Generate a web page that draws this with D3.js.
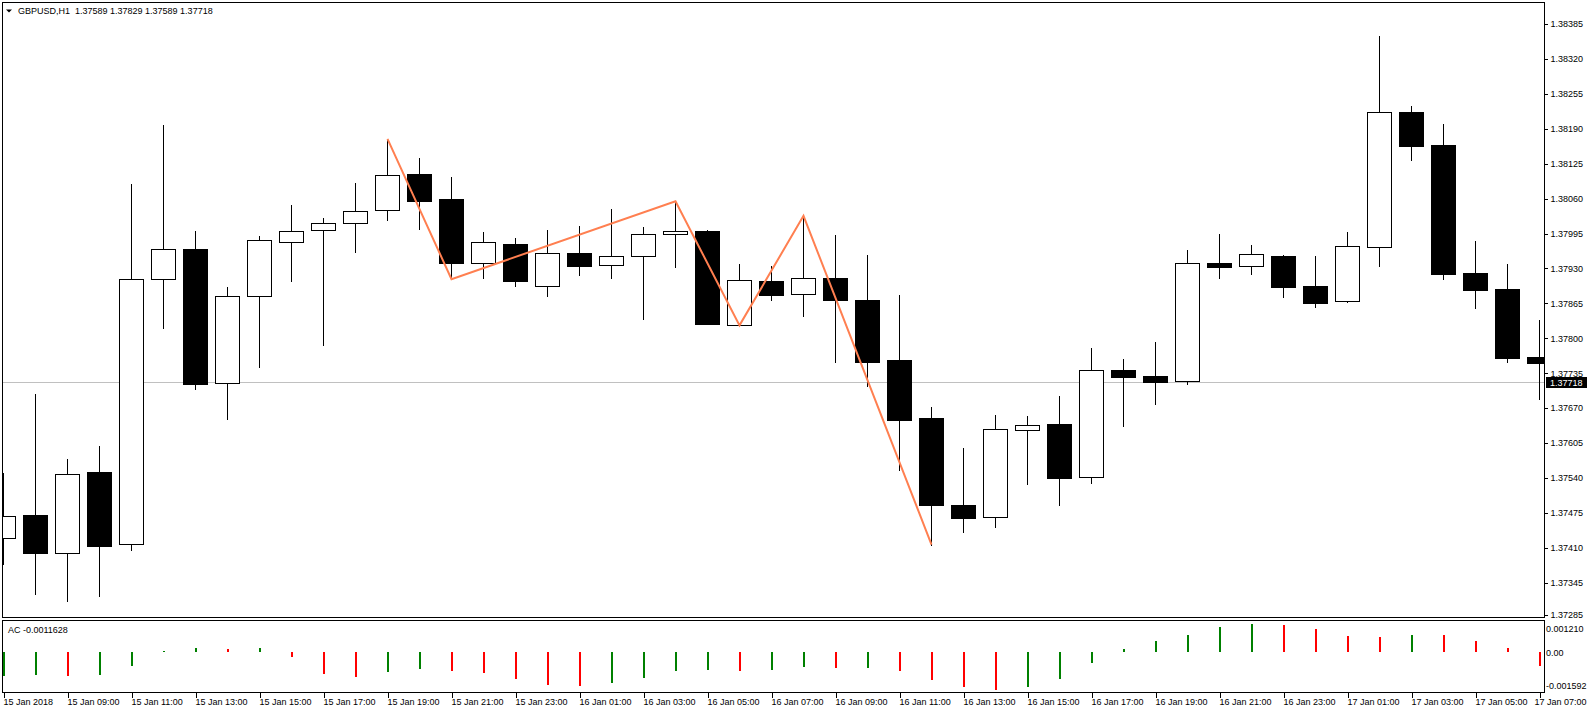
<!DOCTYPE html>
<html><head><meta charset="utf-8">
<script src="https://cdn.jsdelivr.net/npm/d3@7"></script>
<style>
body{margin:0;background:#fff}
svg{display:block}
text{font-family:"Liberation Sans",Arial,sans-serif;font-size:9px;fill:#000}
</style>
</head><body>
<svg id="c" width="1587" height="713"></svg>
<script>
// ---- data ----
const symbolTitle = "GBPUSD,H1  1.37589 1.37829 1.37589 1.37718";
const acTitle = "AC -0.0011628";
const open  = [1.37428,1.37471,1.37400,1.37551,1.37417,1.37910,1.37966,1.37716,1.37878,1.37979,1.38001,1.38014,1.38038,1.38106,1.38059,1.37941,1.37975,1.37897,1.37959,1.37936,1.37954,1.37994,1.38000,1.37824,1.37907,1.37882,1.37912,1.37871,1.37760,1.37652,1.37490,1.37467,1.37629,1.37640,1.37542,1.37741,1.37730,1.37720,1.37940,1.37934,1.37953,1.37897,1.37869,1.37969,1.38221,1.38160,1.37921,1.37892,1.37765];
const high  = [1.37550,1.37696,1.37575,1.37599,1.38087,1.38197,1.38000,1.37895,1.37990,1.38048,1.38024,1.38089,1.38171,1.38136,1.38100,1.37998,1.37987,1.38002,1.38009,1.38041,1.38007,1.38055,1.38001,1.37938,1.37935,1.38028,1.37992,1.37955,1.37881,1.37672,1.37596,1.37657,1.37655,1.37693,1.37782,1.37761,1.37793,1.37964,1.37994,1.37974,1.37955,1.37953,1.37998,1.38363,1.38232,1.38199,1.37981,1.37938,1.37834];
const low   = [1.37379,1.37323,1.37311,1.37321,1.37405,1.37820,1.37706,1.37650,1.37747,1.37907,1.37788,1.37961,1.38021,1.38004,1.37910,1.37913,1.37898,1.37879,1.37917,1.37913,1.37836,1.37933,1.37826,1.37824,1.37871,1.37842,1.37755,1.37712,1.37555,1.37416,1.37440,1.37449,1.37529,1.37490,1.37531,1.37637,1.37678,1.37714,1.37913,1.37920,1.37877,1.37859,1.37868,1.37935,1.38132,1.37911,1.37857,1.37755,1.37686];
const close = [1.37470,1.37401,1.37547,1.37413,1.37910,1.37966,1.37714,1.37878,1.37982,1.37999,1.38014,1.38036,1.38103,1.38056,1.37941,1.37979,1.37907,1.37958,1.37935,1.37953,1.37994,1.37999,1.37827,1.37908,1.37881,1.37913,1.37872,1.37755,1.37648,1.37490,1.37466,1.37631,1.37638,1.37540,1.37740,1.37728,1.37719,1.37941,1.37933,1.37956,1.37896,1.37866,1.37971,1.38221,1.38158,1.37920,1.37890,1.37764,1.37753];
const acValues = [-0.000960,-0.000934,-0.000974,-0.000934,-0.000574,0.000040,0.000147,0.000107,0.000150,-0.000213,-0.000894,-0.001014,-0.000814,-0.000694,-0.000774,-0.000854,-0.001094,-0.001334,-0.001374,-0.001241,-0.001054,-0.000774,-0.000734,-0.000747,-0.000735,-0.000614,-0.000654,-0.000645,-0.000774,-0.001134,-0.001414,-0.001494,-0.001414,-0.001072,-0.000454,0.000110,0.000440,0.000646,0.000976,0.001100,0.001058,0.000893,0.000605,0.000595,0.000646,0.000640,0.000440,0.000140,-0.000560];
const zigzagIndex = [12,14,21,23,25,29];
const zigzagPrice = [1.38171,1.37910,1.38055,1.37824,1.38028,1.37416];
const priceTicks = [1.38385,1.38320,1.38255,1.38190,1.38125,1.38060,1.37995,1.37930,1.37865,1.37800,1.37735,1.37670,1.37605,1.37540,1.37475,1.37410,1.37345,1.37285];
const currentPrice = 1.37718;
const acMax = 0.001210, acMin = -0.001592;
const acTickLabels = ["0.001210","0.00","-0.001592"];
const xTickLabels = ["15 Jan 2018","15 Jan 09:00","15 Jan 11:00","15 Jan 13:00","15 Jan 15:00","15 Jan 17:00","15 Jan 19:00","15 Jan 21:00","15 Jan 23:00","16 Jan 01:00","16 Jan 03:00","16 Jan 05:00","16 Jan 07:00","16 Jan 09:00","16 Jan 11:00","16 Jan 13:00","16 Jan 15:00","16 Jan 17:00","16 Jan 19:00","16 Jan 21:00","16 Jan 23:00","17 Jan 01:00","17 Jan 03:00","17 Jan 05:00","17 Jan 07:00"];

// ---- layout ----
const svg = d3.select("#c");
const W = 1587;
const L = 2.5, R = 1544.5, mainTop = 2.5, mainBot = 617.5, acTop = 620.5, acBot = 692.5;
const n = open.length;
const x = d3.scaleLinear().domain([0, n - 1]).range([3.5, 3.5 + 32 * (n - 1)]);
const y = d3.scaleLinear().domain([1.37285, 1.38385]).range([614.9, 24]);
const ya = d3.scaleLinear().domain([acMin, acMax]).range([692, 621]);

svg.append("rect").attr("width", W).attr("height", 713).attr("fill", "#fff");
const defs = svg.append("defs");
defs.append("clipPath").attr("id", "clipMain").append("rect")
  .attr("x", 3).attr("y", 3).attr("width", R - 3).attr("height", mainBot - 3);
defs.append("clipPath").attr("id", "clipAc").append("rect")
  .attr("x", 3).attr("y", acTop + 0.5).attr("width", R - 3).attr("height", acBot - acTop - 1);

// current price line
const main = svg.append("g").attr("clip-path", "url(#clipMain)").attr("shape-rendering", "crispEdges");
main.append("line").attr("x1", L).attr("x2", R)
  .attr("y1", Math.round(y(currentPrice)) + 0.5).attr("y2", Math.round(y(currentPrice)) + 0.5)
  .attr("stroke", "#c0c0c0");

// candles
const idx = d3.range(n);
const cg = main.selectAll("g.c").data(idx).join("g");
cg.append("line")
  .attr("x1", i => x(i)).attr("x2", i => x(i))
  .attr("y1", i => Math.round(y(high[i]))).attr("y2", i => Math.round(y(low[i])) + 1)
  .attr("stroke", "#000");
cg.each(function(i) {
  const g = d3.select(this);
  const c = Math.floor(x(i));
  const yt = Math.round(y(Math.max(open[i], close[i])));
  const yb = Math.round(y(Math.min(open[i], close[i])));
  if (close[i] >= open[i]) {
    g.append("rect").attr("x", c - 11.5).attr("y", yt + 0.5)
      .attr("width", 24).attr("height", Math.max(1, yb - yt))
      .attr("fill", "#fff").attr("stroke", "#000");
  } else {
    g.append("rect").attr("x", c - 12).attr("y", yt)
      .attr("width", 25).attr("height", Math.max(2, yb - yt + 1))
      .attr("fill", "#000");
  }
});

// zigzag
const zz = zigzagIndex.map((d, k) => [x(d), y(zigzagPrice[k])]);
svg.append("g").attr("clip-path", "url(#clipMain)").append("path")
  .attr("d", d3.line()(zz)).attr("fill", "none")
  .attr("stroke", "#ff7f50").attr("stroke-width", 2);

// AC histogram
const ac = svg.append("g").attr("clip-path", "url(#clipAc)").attr("shape-rendering", "crispEdges");
ac.selectAll("rect").data(idx).join("rect")
  .attr("x", i => Math.floor(x(i)) - 0.5).attr("width", 2)
  .attr("y", i => Math.min(ya(0), ya(acValues[i])))
  .attr("height", i => Math.max(1, Math.abs(ya(acValues[i]) - ya(0))))
  .attr("fill", i => (i === 0 || acValues[i] > acValues[i - 1]) ? "#008000" : "#ff0000");

// frames
const frames = svg.append("g").attr("fill", "none").attr("stroke", "#000").attr("shape-rendering", "crispEdges");
frames.append("rect").attr("x", L).attr("y", mainTop).attr("width", R - L).attr("height", mainBot - mainTop);
frames.append("rect").attr("x", L).attr("y", acTop).attr("width", R - L).attr("height", acBot - acTop);

// price axis
const pAxis = d3.axisRight(y).tickValues(priceTicks).tickSize(3).tickPadding(3)
  .tickFormat(d3.format(".5f"));
const pg = svg.append("g").attr("transform", `translate(${R},0)`).call(pAxis);
pg.select(".domain").remove();
pg.selectAll("line").attr("shape-rendering", "crispEdges");
pg.selectAll("text").style("font-family", '"Liberation Sans",Arial,sans-serif').style("font-size", "9px");

// current price label
const cy = y(currentPrice);
svg.append("rect").attr("x", 1546).attr("y", Math.round(cy) - 5).attr("width", 41).attr("height", 11).attr("fill", "#000");
svg.append("text").attr("x", 1550).attr("y", cy + 3.5).style("fill", "#fff").text(d3.format(".5f")(currentPrice));

// AC axis labels
const acLabelY = [628.5, 652.5, 686];
svg.selectAll("text.acl").data(acTickLabels).join("text").attr("class", "acl")
  .attr("x", 1546).attr("y", (d, k) => acLabelY[k] + 3.3).text(d => d);

// time axis
const tAxis = d3.axisBottom(x).tickValues(d3.range(0, n, 2)).tickSize(5).tickPadding(1)
  .tickFormat((d, k) => xTickLabels[k]);
const tg = svg.append("g").attr("transform", `translate(0,${acBot})`).call(tAxis);
tg.select(".domain").remove();
tg.selectAll("line").attr("shape-rendering", "crispEdges");
tg.selectAll("text").attr("text-anchor", "start").attr("x", -0.5)
  .style("font-family", '"Liberation Sans",Arial,sans-serif').style("font-size", "9px");
// keep the last label inside the window
tg.selectAll(".tick").each(function(d) {
  const t = d3.select(this).select("text");
  const w = t.node().getComputedTextLength();
  if (x(d) - 0.5 + w > W - 1) t.attr("x", (W - 1) - w - x(d));
});

// titles
svg.append("path").attr("d", "M6,9.5 L12,9.5 L9,12.5 Z").attr("fill", "#000");
svg.append("text").attr("x", 18).attr("y", 14).attr("xml:space", "preserve").text(symbolTitle);
svg.append("text").attr("x", 8).attr("y", 633).text(acTitle);
</script>
</body></html>
